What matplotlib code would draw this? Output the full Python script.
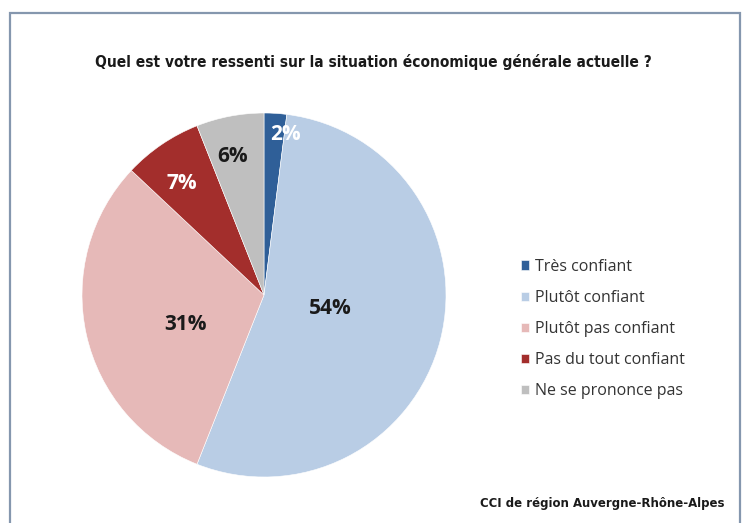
import matplotlib.pyplot as plt
from matplotlib.patches import Rectangle
import numpy as np

categories = ["Très confiant", "Plutôt confiant", "Plutôt pas confiant",
              "Pas du tout confiant", "Ne se prononce pas"]
values = [2, 54, 31, 7, 6]
colors = ["#2F5F98", "#B9CDE5", "#E6B9B8", "#A32E2C", "#BFBFBF"]
label_colors = ["white", "#1a1a1a", "#1a1a1a", "white", "#1a1a1a"]
# position des étiquettes : distance au centre et décalage angulaire (degrés)
label_dist = [0.89, 0.37, 0.46, 0.76, 0.78]
label_shift = [-4, 3, 8, 2, 2]

W, H = 747, 523
fig = plt.figure(figsize=(W / 100, H / 100), dpi=100)

# cadre du graphique
fig.patches.append(Rectangle((10 / W, -0.05), 730 / W, 1.05 - 13 / H,
                             transform=fig.transFigure, fill=False,
                             edgecolor="#8597AE", linewidth=1.6))

# camembert
ax = fig.add_axes([82 / W, 46 / H, 364 / W, 364 / H])
wedges, texts, autotexts = ax.pie(values, colors=colors, startangle=90,
                                  counterclock=False, radius=1,
                                  autopct="%d%%",
                                  wedgeprops=dict(edgecolor="white", linewidth=0.4))
ax.set_xlim(-1, 1)
ax.set_ylim(-1, 1)
ax.set_aspect("equal")

for w, t, d, s, c in zip(wedges, autotexts, label_dist, label_shift, label_colors):
    ang = np.deg2rad((w.theta1 + w.theta2) / 2 + s)
    t.set_position((d * np.cos(ang), d * np.sin(ang)))
    t.set_color(c)
    t.set_fontsize(15)
    t.set_fontweight("bold")
    t.set_family(["Open Sans", "DejaVu Sans"])

fig.text(373 / W, 1 - 62 / H,
         "Quel est votre ressenti sur la situation économique générale actuelle ?",
         ha="center", va="center", fontsize=11.1, fontweight="bold",
         fontstretch="condensed", family="DejaVu Sans", color="#1a1a1a")

leg = fig.legend(wedges, categories, loc="center left",
                 bbox_to_anchor=(507 / W, 1 - 329 / H), frameon=False,
                 prop=dict(family=["Open Sans", "DejaVu Sans"], size=11.5),
                 handlelength=0.5, handleheight=0.5, handletextpad=0.35,
                 labelspacing=0.95, labelcolor="#333333")

fig.text(725 / W, 1 - 503 / H, "CCI de région Auvergne-Rhône-Alpes",
         ha="right", va="center", fontsize=9.4, fontweight="bold",
         fontstretch="condensed", family="DejaVu Sans", color="#1a1a1a")

fig.savefig("out.png", dpi=100)
